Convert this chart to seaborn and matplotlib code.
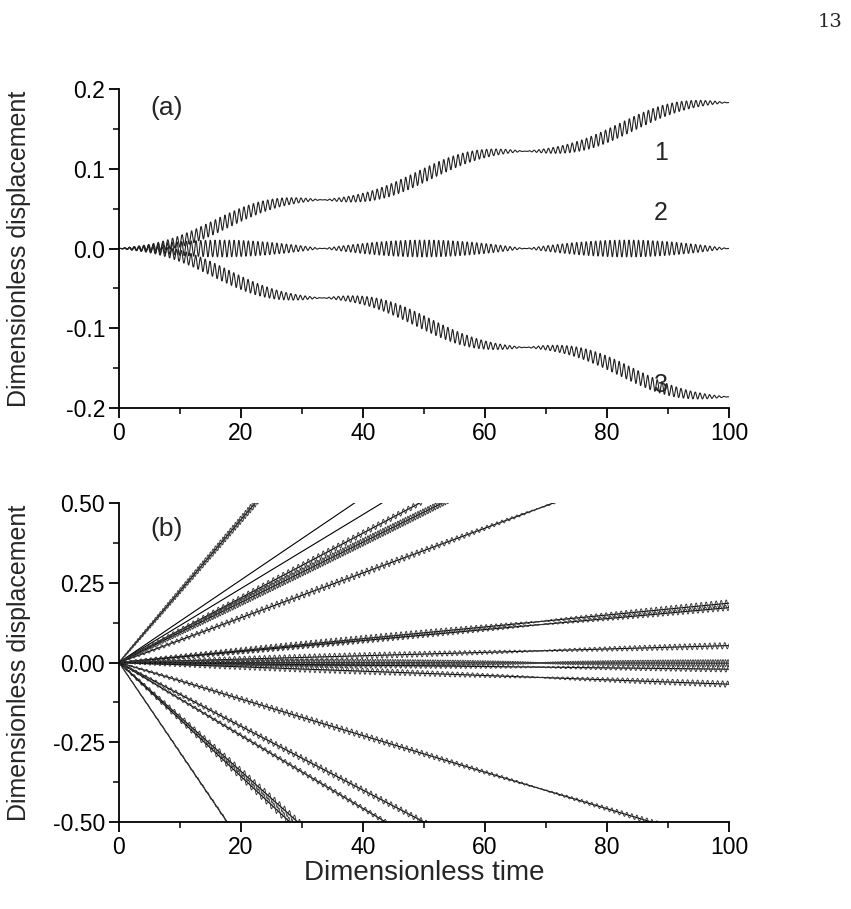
import numpy as np
import pandas as pd
import matplotlib
matplotlib.use("Agg")
import matplotlib.pyplot as plt
from matplotlib.ticker import MultipleLocator, FormatStrFormatter
import seaborn as sns

# ---------------- data ----------------
# panel (a): three displacement curves
a_labels = ["1", "2", "3"]
a_step = [0.061, 0.0, -0.062]      # plateau rise per beat period
a_amp = [0.0088, 0.0105, 0.0088]   # fast-oscillation amplitude
a_beat = 33.3                      # beat period (dimensionless time)
a_period = 0.78                    # fast oscillation period

# panel (b): fan of trajectories, mean value they would reach at t = 100
b_end = [2.24, 1.295, 1.16, 1.014, 0.943, 0.702, 0.186, 0.172, 0.053,
         -0.002, -0.021, -0.068, -0.573, -1.0, -1.144, -1.706, -1.786, -2.82]
b_amp = [0.014, 0.0, 0.0, 0.010, 0.013, 0.011, 0.011, 0.009, 0.010,
         0.011, 0.009, 0.010, 0.010, 0.010, 0.008, 0.013, 0.013, 0.005]
b_braid = [1, 0, 0, 0, 1, 0, 0, 0, 0, 1, 0, 0, 0, 0, 0, 0, 0, 0]
b_beat = 69.0
b_period = 0.82

x_ticks = [0, 20, 40, 60, 80, 100]

# ---------------- figure ----------------
sns.set_theme(style="ticks")
plt.rcParams["font.family"] = ["Liberation Sans", "DejaVu Sans"]
plt.rcParams["axes.unicode_minus"] = False

W, H = 851, 909
fig = plt.figure(figsize=(W / 100, H / 100), dpi=100)
left, width = 119 / W, 610 / W
ax_a = fig.add_axes([left, 1 - 408 / H, width, 319 / H])
ax_b = fig.add_axes([left, 1 - 822 / H, width, 319 / H])

t = np.linspace(0, 100, 8001)
curve_color = "#222222"

# panel (a)
for i, (lab, st, am) in enumerate(zip(a_labels, a_step, a_amp)):
    mean = st * (t / a_beat - np.sin(2 * np.pi * t / a_beat) / (2 * np.pi))
    env = np.abs(np.sin(np.pi * t / a_beat))
    y = mean + am * env * np.sin(2 * np.pi * t / a_period + 0.4 * i)
    sns.lineplot(x=t, y=y, ax=ax_a, color=curve_color, lw=0.8,
                 estimator=None, sort=False)

# panel (b)
for i, (end, am, br) in enumerate(zip(b_end, b_amp, b_braid)):
    mean = end * t / 100.0
    sns.lineplot(x=t, y=mean, ax=ax_b, color="black", lw=0.8,
                 estimator=None, sort=False)
    if am > 0:
        env = np.abs(np.sin(np.pi * t / b_beat)) ** 0.5
        phases = [0.0, np.pi] if br else [0.9 * i]
        for ph in phases:
            y = mean + am * env * np.sin(2 * np.pi * t / b_period + ph)
            sns.lineplot(x=t, y=y, ax=ax_b, color="#3a3a3a", lw=0.65,
                         estimator=None, sort=False)

for ax in (ax_a, ax_b):
    ax.set_xlim(0, 100)
    ax.xaxis.set_minor_locator(MultipleLocator(10))
    ax.set_xticks(x_ticks)
    ax.set_xticklabels([str(v) for v in x_ticks])
    sns.despine(ax=ax)
    for sp in ("left", "bottom"):
        ax.spines[sp].set_linewidth(1.3)
        ax.spines[sp].set_color("black")
    ax.tick_params(which="major", direction="out", length=7, width=1.3,
                   labelsize=16.5, colors="black", pad=3)
    ax.tick_params(which="minor", direction="out", length=4, width=1.1,
                   colors="black")
    ax.set_xlabel("")
    ax.set_ylabel("Dimensionless displacement", fontsize=18)
    ax.yaxis.set_label_coords(-88 / 610, 0.5)

ax_a.set_ylim(-0.2, 0.2)
ax_a.yaxis.set_major_locator(MultipleLocator(0.1))
ax_a.yaxis.set_minor_locator(MultipleLocator(0.05))
ax_a.yaxis.set_major_formatter(FormatStrFormatter("%.1f"))

ax_b.set_ylim(-0.5, 0.5)
ax_b.yaxis.set_major_locator(MultipleLocator(0.25))
ax_b.yaxis.set_minor_locator(MultipleLocator(0.125))
ax_b.yaxis.set_major_formatter(FormatStrFormatter("%.2f"))

ax_b.set_xlabel("Dimensionless time", fontsize=20, labelpad=1)

ax_a.text(48 / 610, 0.94, "(a)", transform=ax_a.transAxes, fontsize=19,
          ha="center", va="center")
ax_b.text(48 / 610, 0.92, "(b)", transform=ax_b.transAxes, fontsize=19,
          ha="center", va="center")
ax_a.text(88.8, 0.12, "1", fontsize=18, ha="center", va="center")
ax_a.text(88.8, 0.045, "2", fontsize=18, ha="center", va="center")
ax_a.text(88.8, -0.171, "3", fontsize=18, ha="center", va="center")

fig.text(842 / W, 1 - 22 / H, "13", fontsize=14, ha="right", va="center",
         family=["DejaVu Serif"])

fig.savefig("out.png", dpi=100)
